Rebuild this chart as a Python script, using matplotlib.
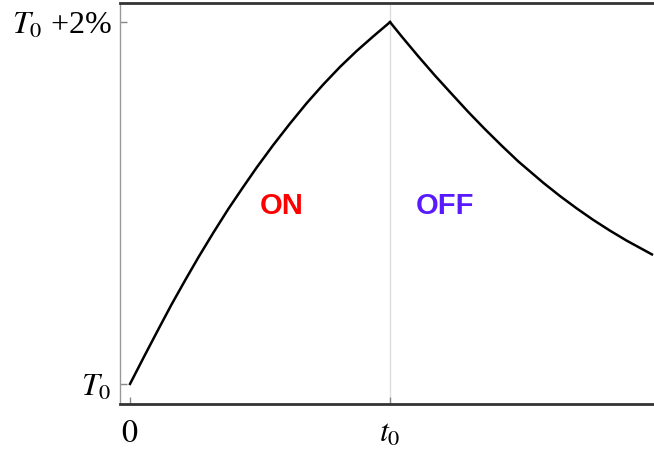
import matplotlib
matplotlib.use("Agg")
import matplotlib.pyplot as plt

# heater ON: time (units of t0) and temperature rise (% above T0)
time_on = [0.0, 0.058, 0.109, 0.160, 0.212, 0.263, 0.320, 0.378, 0.433, 0.487,
           0.551, 0.615, 0.680, 0.743, 0.808, 0.872, 0.936, 1.0]
temp_on = [0.0, 0.162, 0.302, 0.440, 0.573, 0.700, 0.835, 0.967, 1.084, 1.196,
           1.321, 1.439, 1.553, 1.655, 1.753, 1.841, 1.922, 2.0]

# heater OFF: cooling after t0
time_off = [1.0, 1.045, 1.109, 1.173, 1.237, 1.301, 1.365, 1.430, 1.493, 1.590,
            1.654, 1.718, 1.782, 1.846, 1.910, 2.007]
temp_off = [2.0, 1.920, 1.810, 1.704, 1.603, 1.503, 1.408, 1.316, 1.230, 1.111,
            1.038, 0.970, 0.906, 0.847, 0.792, 0.716]

xtick_pos = [0.0, 1.0]
xtick_labels = ["$0$", "$t_0$"]
ytick_pos = [0.0, 2.0]
ytick_labels = ["$T_0$", "$T_0$ +2%"]

plt.rcParams["mathtext.fontset"] = "stix"
plt.rcParams["font.family"] = ["Liberation Serif", "DejaVu Serif"]

fig = plt.figure(figsize=(6.54, 4.56), dpi=100)
ax = fig.add_axes([0.1835, 0.112, 0.8165, 0.879])

ax.axvline(1.0, color="#dddddd", lw=1.0, zorder=0)
ax.plot(time_on, temp_on, color="black", lw=1.8, solid_joinstyle="round")
ax.plot(time_off, temp_off, color="black", lw=1.8, solid_joinstyle="round")

label_font = ["Liberation Sans Narrow", "Liberation Sans"]
ax.text(0.585, 0.99, "ON", color="#ff0000", fontsize=21, fontweight="bold",
        family=label_font, ha="center", va="center")
ax.text(1.21, 0.99, "OFF", color="#5a1aff", fontsize=21, fontweight="bold",
        family=label_font, ha="center", va="center")

ax.set_xlim(-0.0385, 2.015)
ax.set_ylim(-0.1105, 2.105)

ax.set_xticks(xtick_pos)
ax.set_xticklabels(xtick_labels, fontsize=23)
ax.set_yticks(ytick_pos)
ax.set_yticklabels(ytick_labels, fontsize=23)
ax.tick_params(axis="both", direction="in", length=5, width=1, color="#888888")
ax.tick_params(axis="x", pad=11)
ax.tick_params(axis="y", pad=6)

ax.spines["left"].set_color("#999999")
ax.spines["left"].set_linewidth(1.0)
ax.spines["bottom"].set_color("#333333")
ax.spines["bottom"].set_linewidth(2.0)
ax.spines["top"].set_color("#333333")
ax.spines["top"].set_linewidth(2.0)
ax.spines["right"].set_visible(False)

fig.savefig("out.png", dpi=100)
